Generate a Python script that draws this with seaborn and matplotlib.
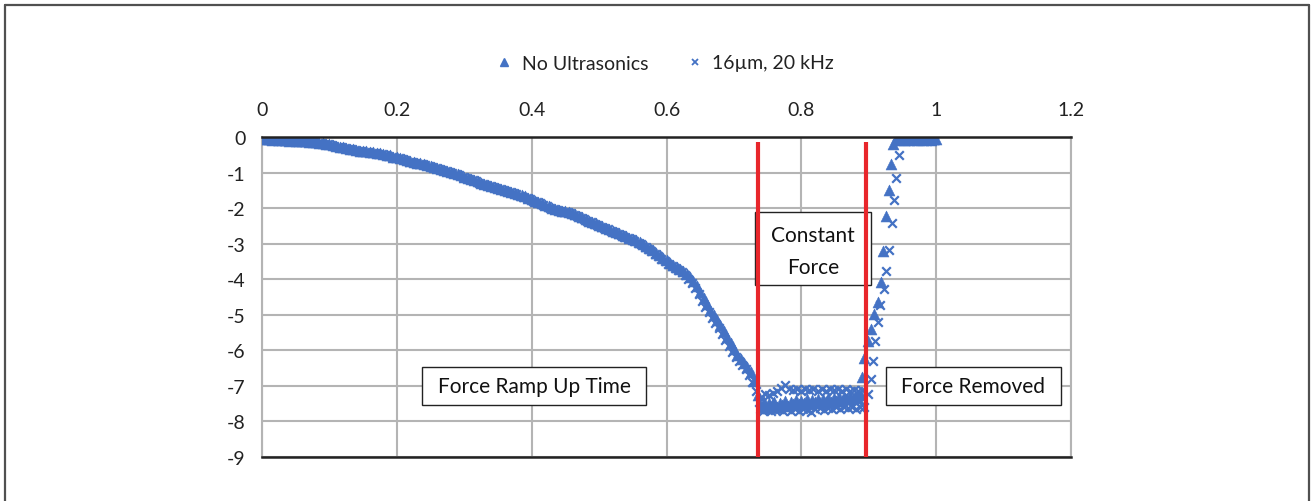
import matplotlib
matplotlib.use("Agg")
import matplotlib.pyplot as plt
import seaborn as sns
import pandas as pd
from matplotlib.patches import Rectangle
from matplotlib.lines import Line2D

# ---------------- data ----------------
series_names = ["No Ultrasonics", "16\u00b5m, 20 kHz"]

time_no = [
    0.000, 0.005, 0.010, 0.015, 0.020, 0.025, 0.030, 0.035, 0.040, 0.045,
    0.050, 0.055, 0.060, 0.065, 0.070, 0.075, 0.080, 0.085, 0.090, 0.095,
    0.100, 0.105, 0.110, 0.115, 0.120, 0.125, 0.130, 0.135, 0.140, 0.145,
    0.150, 0.155, 0.160, 0.165, 0.170, 0.175, 0.180, 0.185, 0.190, 0.195,
    0.200, 0.205, 0.210, 0.215, 0.220, 0.225, 0.230, 0.235, 0.240, 0.245,
    0.250, 0.255, 0.260, 0.265, 0.270, 0.275, 0.280, 0.285, 0.290, 0.295,
    0.300, 0.305, 0.310, 0.315, 0.320, 0.325, 0.330, 0.335, 0.340, 0.345,
    0.350, 0.355, 0.360, 0.365, 0.370, 0.375, 0.380, 0.385, 0.390, 0.395,
    0.400, 0.405, 0.410, 0.415, 0.420, 0.425, 0.430, 0.435, 0.440, 0.445,
    0.450, 0.455, 0.460, 0.465, 0.470, 0.475, 0.480, 0.485, 0.490, 0.495,
    0.500, 0.505, 0.510, 0.515, 0.520, 0.525, 0.530, 0.535, 0.540, 0.545,
    0.550, 0.555, 0.560, 0.565, 0.570, 0.575, 0.580, 0.585, 0.590, 0.595,
    0.600, 0.605, 0.610, 0.615, 0.620, 0.625, 0.630, 0.635, 0.640, 0.645,
    0.650, 0.655, 0.660, 0.665, 0.670, 0.675, 0.680, 0.685, 0.690, 0.695,
    0.700, 0.705, 0.710, 0.715, 0.720, 0.725, 0.730, 0.735,
    0.740, 0.744, 0.748, 0.752, 0.756, 0.760, 0.764, 0.768, 0.772, 0.776,
    0.780, 0.784, 0.788, 0.792, 0.796, 0.800, 0.804, 0.808, 0.812, 0.816,
    0.820, 0.824, 0.828, 0.832, 0.836, 0.840, 0.844, 0.848, 0.852, 0.856,
    0.860, 0.864, 0.868, 0.872, 0.876, 0.880, 0.884, 0.888,
    0.8895, 0.893, 0.899, 0.903, 0.908, 0.914, 0.918, 0.921, 0.926, 0.930,
    0.933, 0.936,
    0.940, 0.944, 0.948, 0.952, 0.956, 0.960, 0.964, 0.968, 0.972, 0.976,
    0.980, 0.984, 0.988, 0.992, 0.996, 1.000,
]
force_no = [
    -0.05, -0.07, -0.06, -0.08, -0.07, -0.08, -0.09, -0.08, -0.10, -0.09,
    -0.11, -0.10, -0.12, -0.12, -0.13, -0.14, -0.14, -0.16, -0.17, -0.19,
    -0.20, -0.22, -0.24, -0.27, -0.29, -0.31, -0.33, -0.35, -0.36, -0.38,
    -0.39, -0.40, -0.42, -0.43, -0.44, -0.46, -0.47, -0.50, -0.52, -0.55,
    -0.57, -0.60, -0.63, -0.66, -0.68, -0.70, -0.72, -0.74, -0.76, -0.79,
    -0.81, -0.84, -0.86, -0.89, -0.92, -0.95, -0.98, -1.01, -1.04, -1.08,
    -1.12, -1.15, -1.18, -1.21, -1.25, -1.28, -1.31, -1.34, -1.37, -1.40,
    -1.43, -1.46, -1.49, -1.52, -1.55, -1.58, -1.61, -1.64, -1.67, -1.71,
    -1.75, -1.79, -1.83, -1.87, -1.91, -1.95, -1.99, -2.02, -2.05, -2.07,
    -2.09, -2.11, -2.14, -2.17, -2.21, -2.26, -2.31, -2.35, -2.39, -2.43,
    -2.47, -2.51, -2.55, -2.59, -2.63, -2.67, -2.71, -2.75, -2.79, -2.83,
    -2.87, -2.91, -2.96, -3.01, -3.06, -3.12, -3.19, -3.26, -3.33, -3.40,
    -3.47, -3.54, -3.60, -3.66, -3.72, -3.78, -3.86, -3.95, -4.06, -4.20,
    -4.36, -4.53, -4.70, -4.86, -5.00, -5.14, -5.28, -5.45, -5.62, -5.80,
    -5.97, -6.12, -6.24, -6.35, -6.47, -6.62, -6.85, -7.25,
    -7.58, -7.45, -7.62, -7.48, -7.55, -7.44, -7.58, -7.47, -7.53, -7.42,
    -7.56, -7.45, -7.50, -7.40, -7.52, -7.42, -7.48, -7.38, -7.50, -7.40,
    -7.46, -7.36, -7.47, -7.37, -7.44, -7.34, -7.45, -7.35, -7.42, -7.32,
    -7.42, -7.32, -7.38, -7.28, -7.38, -7.28, -7.34, -7.26,
    -6.76, -6.22, -5.73, -5.40, -4.98, -4.65, -4.07, -3.20, -2.23, -1.49,
    -0.76, -0.20,
    -0.06, -0.08, -0.05, -0.09, -0.06, -0.08, -0.05, -0.07, -0.09, -0.06,
    -0.08, -0.05, -0.07, -0.09, -0.06, -0.07,
]

time_us = [
    0.0025, 0.0075, 0.0125, 0.0175, 0.0225, 0.0275, 0.0325, 0.0375, 0.0425, 0.0475,
    0.0525, 0.0575, 0.0625, 0.0675, 0.0725, 0.0775, 0.0825, 0.0875, 0.0925, 0.0975,
    0.1025, 0.1075, 0.1125, 0.1175, 0.1225, 0.1275, 0.1325, 0.1375, 0.1425, 0.1475,
    0.1525, 0.1575, 0.1625, 0.1675, 0.1725, 0.1775, 0.1825, 0.1875, 0.1925, 0.1975,
    0.2025, 0.2075, 0.2125, 0.2175, 0.2225, 0.2275, 0.2325, 0.2375, 0.2425, 0.2475,
    0.2525, 0.2575, 0.2625, 0.2675, 0.2725, 0.2775, 0.2825, 0.2875, 0.2925, 0.2975,
    0.3025, 0.3075, 0.3125, 0.3175, 0.3225, 0.3275, 0.3325, 0.3375, 0.3425, 0.3475,
    0.3525, 0.3575, 0.3625, 0.3675, 0.3725, 0.3775, 0.3825, 0.3875, 0.3925, 0.3975,
    0.4025, 0.4075, 0.4125, 0.4175, 0.4225, 0.4275, 0.4325, 0.4375, 0.4425, 0.4475,
    0.4525, 0.4575, 0.4625, 0.4675, 0.4725, 0.4775, 0.4825, 0.4875, 0.4925, 0.4975,
    0.5025, 0.5075, 0.5125, 0.5175, 0.5225, 0.5275, 0.5325, 0.5375, 0.5425, 0.5475,
    0.5525, 0.5575, 0.5625, 0.5675, 0.5725, 0.5775, 0.5825, 0.5875, 0.5925, 0.5975,
    0.6025, 0.6075, 0.6125, 0.6175, 0.6225, 0.6275, 0.6325, 0.6375, 0.6425, 0.6475,
    0.6525, 0.6575, 0.6625, 0.6675, 0.6725, 0.6775, 0.6825, 0.6875, 0.6925, 0.6975,
    0.7025, 0.7075, 0.7125, 0.7175, 0.7225, 0.7275, 0.7325, 0.7375,
    0.740, 0.743, 0.746, 0.749, 0.752, 0.755, 0.758, 0.761, 0.764, 0.767,
    0.770, 0.773, 0.776, 0.779, 0.782, 0.785, 0.788, 0.791, 0.794, 0.797,
    0.800, 0.803, 0.806, 0.809, 0.812, 0.815, 0.818, 0.821, 0.824, 0.827,
    0.830, 0.833, 0.836, 0.839, 0.842, 0.845, 0.848, 0.851, 0.854, 0.857,
    0.860, 0.863, 0.866, 0.869, 0.872, 0.875, 0.878, 0.881, 0.884, 0.887,
    0.890, 0.893,
    0.899, 0.903, 0.906, 0.909, 0.914, 0.917, 0.922, 0.926, 0.930, 0.934,
    0.938, 0.941, 0.945,
    0.950, 0.954, 0.958, 0.962, 0.966, 0.970, 0.974, 0.978, 0.982, 0.986,
    0.990, 0.994, 0.998,
]
force_us = [
    -0.08, -0.06, -0.09, -0.07, -0.10, -0.08, -0.10, -0.09, -0.11, -0.10,
    -0.12, -0.11, -0.13, -0.12, -0.15, -0.14, -0.16, -0.17, -0.19, -0.20,
    -0.23, -0.24, -0.27, -0.29, -0.31, -0.33, -0.35, -0.36, -0.38, -0.40,
    -0.41, -0.42, -0.44, -0.45, -0.47, -0.48, -0.50, -0.53, -0.55, -0.58,
    -0.60, -0.63, -0.66, -0.69, -0.71, -0.73, -0.75, -0.77, -0.79, -0.82,
    -0.84, -0.87, -0.89, -0.92, -0.95, -0.98, -1.01, -1.04, -1.08, -1.12,
    -1.15, -1.18, -1.21, -1.25, -1.28, -1.31, -1.34, -1.37, -1.40, -1.43,
    -1.46, -1.49, -1.52, -1.55, -1.58, -1.61, -1.65, -1.68, -1.71, -1.75,
    -1.79, -1.83, -1.87, -1.91, -1.95, -1.99, -2.02, -2.05, -2.07, -2.10,
    -2.12, -2.14, -2.18, -2.22, -2.27, -2.32, -2.36, -2.40, -2.44, -2.48,
    -2.52, -2.56, -2.60, -2.64, -2.68, -2.72, -2.76, -2.80, -2.84, -2.88,
    -2.92, -2.97, -3.02, -3.08, -3.14, -3.21, -3.28, -3.35, -3.42, -3.49,
    -3.56, -3.62, -3.68, -3.74, -3.80, -3.88, -3.98, -4.10, -4.25, -4.42,
    -4.60, -4.77, -4.93, -5.08, -5.22, -5.36, -5.53, -5.71, -5.88, -6.04,
    -6.18, -6.30, -6.41, -6.53, -6.68, -6.90, -7.15, -7.45,
    -7.30, -7.70, -7.22, -7.66, -7.26, -7.72, -7.20, -7.68, -7.15, -7.64,
    -7.05, -7.70, -6.98, -7.66, -7.08, -7.72, -7.12, -7.66, -7.10, -7.70,
    -7.14, -7.64, -7.09, -7.68, -7.12, -7.74, -7.08, -7.66, -7.13, -7.62,
    -7.10, -7.68, -7.14, -7.62, -7.09, -7.66, -7.12, -7.60, -7.10, -7.64,
    -7.15, -7.58, -7.10, -7.62, -7.13, -7.60, -7.11, -7.64, -7.15, -7.58,
    -7.12, -7.60,
    -7.23, -6.82, -6.31, -5.75, -5.19, -4.72, -4.27, -3.76, -3.17, -2.43,
    -1.77, -1.16, -0.51,
    -0.07, -0.09, -0.06, -0.08, -0.10, -0.07, -0.09, -0.06, -0.08, -0.10,
    -0.07, -0.09, -0.08,
]

x_ticks = [0, 0.2, 0.4, 0.6, 0.8, 1.0, 1.2]
x_tick_labels = ["0", "0.2", "0.4", "0.6", "0.8", "1", "1.2"]
y_ticks = [0, -1, -2, -3, -4, -5, -6, -7, -8, -9]
y_tick_labels = ["0", "-1", "-2", "-3", "-4", "-5", "-6", "-7", "-8", "-9"]

phase_lines = [0.736, 0.8955]
phase_labels = ["Force Ramp Up Time", "Constant\nForce", "Force Removed"]

# ---------------- plotting ----------------
sns.set_style("white")
plt.rcParams["font.family"] = ["Lato", "DejaVu Sans"]
plt.rcParams["axes.unicode_minus"] = False

BLUE = "#4472C4"
RED = "#E8262B"
GRID = "#B4B4B4"

df = pd.concat([
    pd.DataFrame({"time": time_no, "force": force_no, "series": series_names[0]}),
    pd.DataFrame({"time": time_us, "force": force_us, "series": series_names[1]}),
], ignore_index=True)

W, H = 1312, 502
fig = plt.figure(figsize=(W / 100, H / 100), dpi=100)
ax = fig.add_axes([262 / W, 1 - 458 / H, (1071 - 262) / W, (458 - 138) / H])

sns.scatterplot(data=df[df.series == series_names[0]], x="time", y="force",
                marker="^", s=62, color=BLUE, edgecolor=BLUE, linewidth=0.4,
                ax=ax, zorder=3, legend=False)
sns.scatterplot(data=df[df.series == series_names[1]], x="time", y="force",
                marker="x", s=38, color=BLUE, linewidth=1.6,
                ax=ax, zorder=3, legend=False)

ax.set_xlim(0, 1.2)
ax.set_ylim(-9, 0)
ax.set_xticks(x_ticks)
ax.set_xticklabels(x_tick_labels)
ax.set_yticks(y_ticks)
ax.set_yticklabels(y_tick_labels)
ax.xaxis.tick_top()
ax.tick_params(axis="x", length=0, pad=14, labelsize=14, labelcolor="#222222")
ax.tick_params(axis="y", length=0, pad=12, labelsize=14, labelcolor="#222222")
ax.set_xlabel("")
ax.set_ylabel("")
ax.grid(True, color=GRID, linewidth=1.5, zorder=0)
ax.set_axisbelow(True)
for side in ["left", "right"]:
    ax.spines[side].set_color(GRID)
    ax.spines[side].set_linewidth(1.5)
for side in ["top", "bottom"]:
    ax.spines[side].set_color("#222222")
    ax.spines[side].set_linewidth(1.8)
    ax.spines[side].set_zorder(4)

# text boxes (white filled, thin black frame)
boxes = [
    (0.237, -7.54, 0.333, 1.07, 0.4035, -7.0),
    (0.732, -4.16, 0.171, 2.04, 0.8175, -3.2),
    (0.925, -7.54, 0.260, 1.07, 1.055, -7.0),
]
for (bx, by, bw, bh, tx, ty), label in zip(boxes, phase_labels):
    ax.add_patch(Rectangle((bx, by), bw, bh, facecolor="white",
                           edgecolor="#222222", linewidth=1.0, zorder=5))
    ax.text(tx, ty, label, ha="center", va="center", fontsize=15,
            color="#111111", zorder=6, linespacing=1.75)

for xv in phase_lines:
    ax.plot([xv, xv], [-0.13, -9], color=RED, linewidth=3.0, zorder=7,
            solid_capstyle="butt")

# legend
handles = [
    Line2D([], [], linestyle="none", marker="^", markersize=6,
           markerfacecolor=BLUE, markeredgecolor=BLUE),
    Line2D([], [], linestyle="none", marker="x", markersize=5,
           markeredgewidth=1.3, color=BLUE),
]
fig.legend(handles, series_names, loc="center", bbox_to_anchor=(0.507, 1 - 64 / H),
           ncol=2, frameon=False, fontsize=14, handlelength=0.8,
           handletextpad=0.5, columnspacing=2.0, labelcolor="#222222")

# outer frame
frame_color = "#505050"
fig.add_artist(Line2D([4.5 / W, 4.5 / W], [0, 1 - 6 / H], transform=fig.transFigure,
                      color=frame_color, linewidth=1.6))
fig.add_artist(Line2D([1309 / W, 1309 / W], [0, 1 - 6 / H], transform=fig.transFigure,
                      color=frame_color, linewidth=1.6))
fig.add_artist(Line2D([4.5 / W, 1309 / W], [1 - 6 / H, 1 - 6 / H], transform=fig.transFigure,
                      color=frame_color, linewidth=1.6))

fig.savefig("out.png", dpi=100, facecolor="white")
